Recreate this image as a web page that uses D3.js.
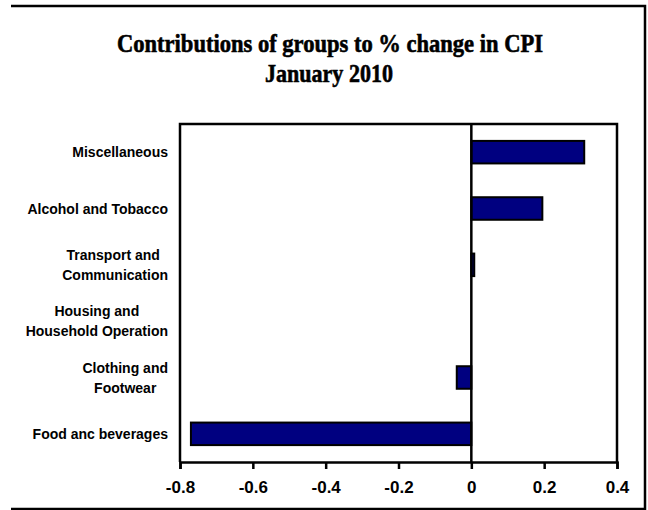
<!DOCTYPE html>
<html>
<head>
<meta charset="utf-8">
<script src="https://cdn.jsdelivr.net/npm/d3@7"></script>
<style>
  body { margin: 0; background: #fff; }
  svg { display: block; }
  .title { font-family: "Liberation Serif", serif; font-weight: bold; }
  .cat { font-family: "Liberation Sans", Arial, sans-serif; font-weight: bold; font-size: 14px; }
  .tick text { font-family: "Liberation Sans", Arial, sans-serif; font-weight: bold; font-size: 17px; }
</style>
</head>
<body>
<svg width="648" height="510"></svg>
<script>
// data, bottom to top as in the source sheet
const categories = [
  ["Food anc beverages"],
  ["Clothing and", "Footwear "],
  ["Housing and", "Household Operation"],
  ["Transport and ", "Communication"],
  ["Alcohol and Tobacco"],
  ["Miscellaneous"]
];
const values = [-0.77, -0.04, 0, 0.008, 0.195, 0.31];
const tickValues = [-0.8, -0.6, -0.4, -0.2, 0, 0.2, 0.4];
const tickLabels = ["-0.8", "-0.6", "-0.4", "-0.2", "0", "0.2", "0.4"];
const titleLines = ["Contributions of groups to % change in CPI", "January 2010"];

const svg = d3.select("svg");
const width = +svg.attr("width");
const height = +svg.attr("height");

const plot = { left: 180, right: 617, top: 124, bottom: 462 };
const labelRight = 168;

const data = categories.map((c, i) => ({ key: c.join(" "), lines: c, value: values[i] }));

const xScale = d3.scaleLinear()
  .domain([-0.8, 0.4])
  .range([plot.left, plot.right]);

const yScale = d3.scaleBand()
  .domain(data.map(d => d.key).reverse())
  .range([plot.top, plot.bottom])
  .paddingInner(0.6)
  .paddingOuter(0.3);

// outer frame (top, right, bottom)
svg.append("path")
  .attr("d", `M11,6 H645 V509 H11`)
  .attr("fill", "none")
  .attr("stroke", "#000")
  .attr("stroke-width", 2.5);

// title
const titleG = svg.append("g").attr("class", "title");
titleG.append("text")
  .attr("x", 117).attr("y", 52)
  .attr("font-size", 26)
  .attr("stroke", "#000").attr("stroke-width", 0.6)
  .attr("textLength", 426)
  .attr("lengthAdjust", "spacingAndGlyphs")
  .text(titleLines[0]);
titleG.append("text")
  .attr("x", 265).attr("y", 82)
  .attr("font-size", 26)
  .attr("stroke", "#000").attr("stroke-width", 0.6)
  .attr("textLength", 128)
  .attr("lengthAdjust", "spacingAndGlyphs")
  .text(titleLines[1]);

// plot frame
svg.append("path")
  .attr("d", `M${plot.left},${plot.bottom} V${plot.top} H${plot.right} V${plot.bottom}`)
  .attr("fill", "none")
  .attr("stroke", "#000")
  .attr("stroke-width", 2.5);

// bars
svg.selectAll("rect.bar")
  .data(data.filter(d => d.value !== 0))
  .enter()
  .append("rect")
  .attr("class", "bar")
  .attr("x", d => xScale(Math.min(0, d.value)))
  .attr("y", d => yScale(d.key))
  .attr("width", d => Math.abs(xScale(d.value) - xScale(0)))
  .attr("height", yScale.bandwidth())
  .attr("fill", "#000080")
  .attr("stroke", "#000")
  .attr("stroke-width", 2);

// zero line
svg.append("line")
  .attr("x1", xScale(0)).attr("x2", xScale(0))
  .attr("y1", plot.top).attr("y2", plot.bottom)
  .attr("stroke", "#000")
  .attr("stroke-width", 2.5);

// x axis
const xAxis = d3.axisBottom(xScale)
  .tickValues(tickValues)
  .tickSize(7)
  .tickPadding(12)
  .tickFormat((d, i) => tickLabels[i]);

const xAxisG = svg.append("g")
  .attr("transform", `translate(0,${plot.bottom})`)
  .call(xAxis);
xAxisG.select(".domain").attr("stroke-width", 2.5);
xAxisG.selectAll(".tick line").attr("stroke-width", 2.5);
xAxisG.selectAll(".tick text").attr("fill", "#000");

// category labels, multi-line ones centred as a block
const labelG = svg.append("g").attr("class", "cat");
data.forEach(d => {
  const cy = yScale(d.key) + yScale.bandwidth() / 2;
  const t = labelG.append("text").attr("text-anchor", "middle");
  const n = d.lines.length;
  d.lines.forEach((line, j) => {
    t.append("tspan")
      .attr("y", cy + 5 + (j - (n - 1) / 2) * 20)
      .text(line);
  });
  let maxW = 0;
  t.selectAll("tspan").each(function() {
    maxW = Math.max(maxW, this.getComputedTextLength());
  });
  t.selectAll("tspan").attr("x", labelRight - maxW / 2);
});
</script>
</body>
</html>
